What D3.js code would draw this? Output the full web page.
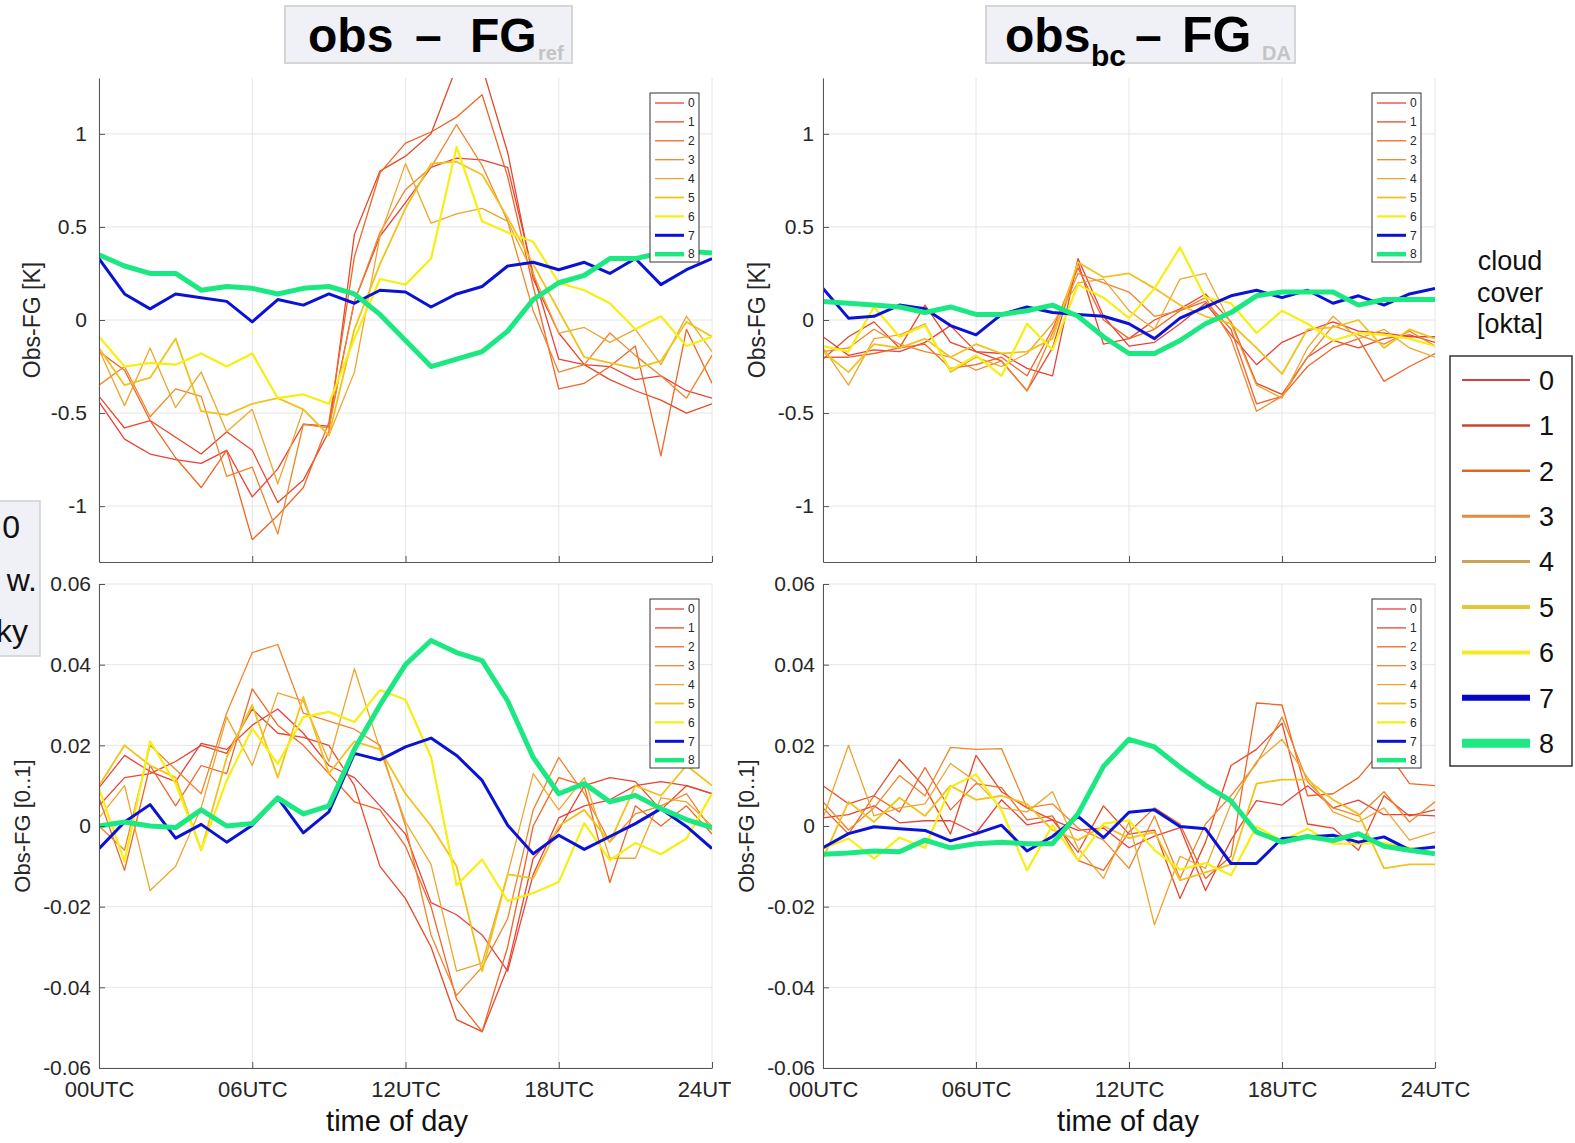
<!DOCTYPE html>
<html>
<head>
<meta charset="utf-8">
<script src="https://d3js.org/d3.v7.min.js"></script>
<style>
  body { margin: 0; background: #fff; }
  svg { display: block; font-family: "Liberation Sans", Arial, sans-serif; }
</style>
</head>
<body>
<div id="chart"></div>
<script>
// hours of the day (x values) and okta classes
const hours = [0,1,2,3,4,5,6,7,8,9,10,11,12,13,14,15,16,17,18,19,20,21,22,23,24];
const oktas = ["0","1","2","3","4","5","6","7","8"];
const xTickHours = [0, 6, 12, 18, 24];
const xTickLabels = ["00UTC", "06UTC", "12UTC", "18UTC", "24UTC"];
const tempTicks = [-1, -0.5, 0, 0.5, 1];
const cloudTicks = [-0.06, -0.04, -0.02, 0, 0.02, 0.04, 0.06];

// obs - FG_ref, temperature [K], one row per okta
const tempRef = [
  [-0.44,-0.64,-0.72,-0.75,-0.77,-0.70,-0.95,-0.80,-0.56,-0.57,0.10,0.45,0.63,0.82,0.87,0.86,0.82,0.25,-0.21,-0.24,-0.25,-0.32,-0.30,-0.38,-0.42],
  [-0.41,-0.58,-0.54,-0.63,-0.72,-0.60,-0.70,-0.98,-0.86,-0.60,0.46,0.80,0.88,1.00,1.36,1.36,0.90,0.22,-0.07,-0.24,-0.32,-0.38,-0.43,-0.50,-0.45],
  [-0.17,-0.27,-0.54,-0.74,-0.90,-0.70,-1.18,-1.05,-0.90,-0.55,0.34,0.79,0.95,1.01,1.09,1.21,0.77,0.18,-0.37,-0.34,-0.25,-0.14,-0.73,-0.05,-0.34],
  [-0.35,-0.25,-0.52,-0.37,-0.41,-0.84,-0.79,-1.15,-0.56,-0.58,0.10,0.47,0.70,0.82,1.05,0.83,0.53,0.05,-0.28,-0.24,-0.07,-0.19,-0.30,-0.42,-0.19],
  [-0.16,-0.46,-0.15,-0.47,-0.28,-0.60,-0.48,-0.88,-0.48,-0.62,-0.28,0.45,0.84,0.52,0.57,0.60,0.53,0.25,-0.07,-0.04,-0.12,-0.05,-0.24,0.02,-0.17],
  [-0.15,-0.35,-0.31,-0.10,-0.49,-0.51,-0.45,-0.42,-0.48,-0.62,-0.05,0.30,0.60,0.84,0.85,0.78,0.55,0.30,0.05,-0.20,-0.23,-0.26,-0.22,-0.01,-0.09],
  [-0.09,-0.25,-0.23,-0.24,-0.18,-0.25,-0.18,-0.42,-0.40,-0.45,-0.10,0.22,0.19,0.33,0.93,0.53,0.47,0.42,0.20,0.16,0.09,-0.05,0.02,-0.14,-0.09],
  [0.33,0.14,0.06,0.14,0.12,0.10,-0.01,0.11,0.08,0.14,0.09,0.16,0.15,0.07,0.14,0.18,0.29,0.31,0.27,0.31,0.25,0.33,0.19,0.27,0.33],
  [0.35,0.29,0.25,0.25,0.16,0.18,0.17,0.14,0.17,0.18,0.14,0.03,-0.11,-0.25,-0.21,-0.17,-0.06,0.11,0.20,0.24,0.33,0.33,0.36,0.37,0.36]
];

// obs_bc - FG_DA, temperature [K]
const tempDA = [
  [-0.09,-0.19,-0.16,-0.17,-0.12,-0.03,-0.17,-0.18,-0.26,-0.30,0.33,0.02,-0.14,-0.12,-0.02,0.09,-0.08,-0.24,-0.12,-0.06,-0.01,-0.06,-0.07,-0.09,-0.09],
  [-0.21,-0.09,-0.01,-0.15,0.08,-0.12,-0.17,-0.22,-0.38,-0.15,0.31,-0.13,-0.10,0.00,0.06,0.14,-0.01,-0.34,-0.40,-0.20,-0.11,-0.15,-0.10,-0.08,-0.12],
  [-0.20,-0.20,-0.18,-0.15,-0.13,-0.26,-0.24,-0.20,-0.30,-0.05,0.28,0.00,-0.10,-0.05,0.05,0.10,-0.05,-0.45,-0.41,-0.25,-0.15,-0.10,-0.33,-0.25,-0.18],
  [-0.17,-0.15,-0.05,-0.13,-0.17,-0.20,-0.27,-0.22,-0.38,-0.07,0.25,0.20,0.15,0.02,0.05,0.12,-0.10,-0.49,-0.41,-0.20,-0.03,-0.08,-0.13,-0.06,-0.14],
  [-0.15,-0.35,-0.10,-0.08,-0.02,-0.28,-0.20,-0.25,-0.18,-0.02,0.20,0.22,0.05,-0.05,0.22,0.25,-0.02,-0.35,-0.42,-0.15,0.02,-0.10,-0.05,-0.15,-0.20],
  [-0.17,-0.28,-0.13,-0.15,-0.10,-0.20,-0.13,-0.18,-0.17,-0.10,0.31,0.23,0.25,0.17,0.08,0.02,-0.02,-0.15,-0.29,-0.05,-0.04,0.00,-0.15,-0.05,-0.10],
  [-0.14,-0.17,0.07,-0.09,-0.03,-0.27,-0.19,-0.30,-0.02,-0.16,0.19,0.12,0.01,0.17,0.39,0.12,0.09,-0.07,0.05,-0.02,-0.11,-0.07,-0.08,-0.10,-0.14],
  [0.17,0.01,0.02,0.08,0.06,-0.03,-0.08,0.03,0.07,0.04,0.03,0.02,-0.02,-0.10,0.01,0.07,0.13,0.16,0.12,0.16,0.09,0.13,0.08,0.14,0.17],
  [0.10,0.09,0.08,0.07,0.04,0.07,0.03,0.03,0.05,0.08,0.02,-0.09,-0.18,-0.18,-0.11,-0.02,0.04,0.13,0.15,0.15,0.15,0.08,0.11,0.11,0.11]
];

// obs - FG_ref, cloud [0..1]
const cloudRef = [
  [0.0095,0.0175,0.0135,0.011,0.0205,0.019,0.025,0.029,0.023,0.015,0.012,0.005,-0.002,-0.019,-0.022,-0.027,-0.036,-0.012,0.002,0.005,0.0065,0.010,0.011,0.010,0.008],
  [0.005,0.012,0.013,0.016,0.020,0.018,0.029,0.023,0.022,0.020,0.010,-0.010,-0.018,-0.030,-0.048,-0.051,-0.035,-0.008,-0.001,0.010,0.012,0.011,0.004,0.010,0.008],
  [0.007,-0.011,0.015,0.005,0.015,0.013,0.034,0.025,0.020,0.013,0.006,0.004,-0.005,-0.020,-0.043,-0.051,-0.030,0.000,0.012,0.010,-0.014,0.005,0.000,0.005,-0.002],
  [0.000,-0.006,0.020,0.014,0.008,0.028,0.043,0.045,0.028,0.026,0.024,0.020,0.000,-0.027,-0.042,-0.035,-0.023,0.004,0.017,0.008,-0.004,0.003,0.005,0.008,-0.001],
  [0.002,0.010,-0.016,-0.010,0.0045,0.027,0.015,0.033,0.031,0.016,0.039,0.019,0.001,-0.0095,-0.036,-0.034,-0.012,0.013,0.004,0.012,-0.008,-0.008,0.007,0.006,0.000],
  [0.010,0.020,0.015,0.012,-0.006,0.017,0.030,0.012,0.032,0.013,0.021,0.019,0.008,0.000,-0.010,-0.036,-0.012,-0.013,0.000,0.004,-0.004,0.010,0.0075,0.015,0.010],
  [0.0093,-0.0088,0.021,0.0105,-0.0059,0.0113,0.0242,0.0154,0.027,0.0283,0.0258,0.0337,0.0313,0.0171,-0.0147,-0.0083,-0.0186,-0.0166,-0.0139,0.0007,-0.0085,-0.0042,-0.007,-0.0031,0.008],
  [-0.0056,0.001,0.0053,-0.003,0.0004,-0.004,0.0002,0.007,-0.0017,0.0035,0.018,0.0164,0.0196,0.0218,0.0175,0.0113,0.0002,-0.0069,-0.0023,-0.0058,-0.0026,0.0006,0.0043,-0.0001,-0.0056],
  [0.000,0.001,0.000,-0.0004,0.004,0.000,0.0006,0.007,0.003,0.005,0.019,0.030,0.040,0.046,0.043,0.041,0.031,0.017,0.008,0.0105,0.006,0.0076,0.0043,0.0016,-0.0004]
];

// obs_bc - FG_DA, cloud [0..1]
const cloudDA = [
  [0.002,0.0028,0.005,0.0008,0.0013,0.0013,-0.0018,0.0065,0.0003,0.0015,-0.0011,-0.0005,-0.0054,-0.0025,-0.0004,-0.016,-0.0035,0.0063,0.0052,0.010,0.0045,0.0064,0.0028,0.0028,0.0025],
  [0.010,0.0055,0.0075,0.0165,0.0095,-0.002,0.0175,0.0085,0.0045,0.0015,-0.0065,0.005,-0.002,-0.001,-0.018,-0.004,0.015,0.019,0.0255,0.0005,-0.0005,-0.006,0.0075,0.0025,0.004],
  [0.0045,-0.002,0.0075,0.0035,0.0145,0.004,0.0105,0.0095,0.0015,0.0025,-0.0085,-0.011,-0.0015,0.0045,0.0005,-0.013,-0.0075,0.0305,0.030,0.0075,0.008,0.012,0.0195,0.0105,0.010],
  [0.006,-0.001,0.0045,0.0125,0.0075,0.0195,0.019,0.0192,0.0045,0.0055,-0.0005,-0.0035,-0.0105,0.0025,-0.013,0.0005,0.0075,0.0155,0.027,0.011,0.0045,0.0025,0.0085,0.001,0.006],
  [0.002,0.020,0.0025,0.0045,0.0055,0.0155,0.011,0.0045,0.0035,0.0085,-0.0055,-0.013,0.001,-0.0245,-0.0075,-0.0105,0.0055,0.016,0.0215,0.012,0.0035,0.001,0.0045,-0.0035,-0.0015],
  [-0.008,0.006,0.001,0.007,0.0025,0.010,0.0065,0.0075,0.0055,-0.001,-0.0035,0.000,-0.003,-0.0015,-0.0135,-0.0115,-0.0095,0.0105,0.0115,0.0115,0.0065,0.003,-0.0105,-0.0095,-0.0095],
  [-0.0056,-0.0031,-0.0081,-0.0029,-0.0054,0.0097,0.0128,0.0039,-0.011,0.0002,-0.0085,0.0006,0.0014,-0.006,-0.0108,-0.0092,-0.0122,-0.0001,-0.0037,-0.0007,-0.0044,-0.0044,-0.0042,-0.0054,-0.0067],
  [-0.0054,-0.0019,-0.0002,-0.0007,-0.0011,-0.0037,-0.0019,0.0002,-0.0062,-0.0026,0.0024,-0.0029,0.0034,0.004,-0.0001,-0.0007,-0.0093,-0.0093,-0.0031,-0.0027,-0.0023,-0.004,-0.0027,-0.0059,-0.0052],
  [-0.007,-0.0067,-0.0062,-0.0064,-0.0035,-0.0054,-0.0044,-0.004,-0.0044,-0.0044,0.003,0.0148,0.0215,0.0196,0.0146,0.0101,0.0062,-0.0015,-0.004,-0.0026,-0.0036,-0.0019,-0.005,-0.006,-0.0069]
];

const lineColors = ["#e8413a","#e6482a","#ef6526","#f0852c","#eea52c","#f2c21c","#f7ee12","#0a12d4","#1ce882"];
const lineWidths = [1.3,1.3,1.3,1.3,1.3,1.8,2.2,3,5];
const bigColors = ["#d6403c","#c9462e","#e0652a","#e08c45","#c8a455","#e2c838","#f0ee1e","#0606c8","#1ee882"];
const bigWidths = [2,2.5,2.5,3,3,4,4,6,9];

var W = 1575, H = 1143;
var svg = d3.select("#chart").append("svg").attr("width", W).attr("height", H);
var defs = svg.append("defs");
defs.append("clipPath").attr("id", "leftHalf").append("rect")
  .attr("x", 0).attr("y", 0).attr("width", 731).attr("height", H);

var leftG = svg.append("g").attr("clip-path", "url(#leftHalf)");
var rightG = svg.append("g");

var fmt = function (v) { return String(v); };

var panels = [
  { g: leftG, id: "p1", data: tempRef, x0: 99, x1: 712, y0: 78, y1: 562, dom: [-1.3, 1.3], ticks: tempTicks,
    pad: 12, ylab: "Obs-FG [K]", ylabX: 32, ylabS: 23, xlabels: false, lx: 650, ly: 93 },
  { g: rightG, id: "p2", data: tempDA, x0: 823, x1: 1435, y0: 78, y1: 562, dom: [-1.3, 1.3], ticks: tempTicks,
    pad: 9, ylab: "Obs-FG [K]", ylabX: 757, ylabS: 23, xlabels: false, lx: 1372, ly: 93 },
  { g: leftG, id: "p3", data: cloudRef, x0: 99, x1: 712, y0: 584, y1: 1068, dom: [-0.06, 0.06], ticks: cloudTicks,
    pad: 8, ylab: "Obs-FG [0..1]", ylabX: 22, ylabS: 22, xlabels: true, tx: 397, lx: 650, ly: 599 },
  { g: rightG, id: "p4", data: cloudDA, x0: 823, x1: 1435, y0: 584, y1: 1068, dom: [-0.06, 0.06], ticks: cloudTicks,
    pad: 8, ylab: "Obs-FG [0..1]", ylabX: 746, ylabS: 22, xlabels: true, tx: 1128, lx: 1372, ly: 599 }
];

panels.forEach(function (p) {
  var x = d3.scaleLinear().domain([0, 24]).range([p.x0, p.x1]);
  var y = d3.scaleLinear().domain(p.dom).range([p.y1, p.y0]);
  var g = p.g.append("g");

  defs.append("clipPath").attr("id", "clip-" + p.id).append("rect")
    .attr("x", p.x0).attr("y", p.y0).attr("width", p.x1 - p.x0).attr("height", p.y1 - p.y0);

  // grid
  g.selectAll(".gy").data(p.ticks).enter().append("line")
    .attr("x1", p.x0).attr("x2", p.x1)
    .attr("y1", function (d) { return y(d); }).attr("y2", function (d) { return y(d); })
    .attr("stroke", "#e6e6e6").attr("stroke-width", 1);
  g.selectAll(".gx").data(xTickHours).enter().append("line")
    .attr("y1", p.y0).attr("y2", p.y1)
    .attr("x1", function (d) { return x(d); }).attr("x2", function (d) { return x(d); })
    .attr("stroke", "#e6e6e6").attr("stroke-width", 1);

  // series
  var line = d3.line()
    .x(function (d, i) { return x(hours[i]); })
    .y(function (d) { return y(d); });
  g.append("g").attr("clip-path", "url(#clip-" + p.id + ")")
    .selectAll("path").data(p.data).enter().append("path")
    .attr("d", line)
    .attr("fill", "none")
    .attr("stroke", function (d, i) { return lineColors[i]; })
    .attr("stroke-width", function (d, i) { return lineWidths[i]; })
    .attr("stroke-linejoin", "round");

  // axes
  var ya = g.append("g").attr("transform", "translate(" + p.x0 + ",0)")
    .call(d3.axisLeft(y).tickValues(p.ticks).tickFormat(fmt).tickSizeInner(-6).tickSizeOuter(0).tickPadding(p.pad));
  ya.select(".domain").attr("stroke", "#555");
  ya.selectAll(".tick line").attr("stroke", "#555");
  ya.selectAll("text").attr("fill", "#262626").style("font-size", "21px");

  var xa = g.append("g").attr("transform", "translate(0," + p.y1 + ")")
    .call(d3.axisBottom(x).tickValues(xTickHours)
      .tickFormat(function (d, i) { return p.xlabels ? xTickLabels[i] : ""; })
      .tickSizeInner(-6).tickSizeOuter(0).tickPadding(13));
  xa.select(".domain").attr("stroke", "#555");
  xa.selectAll(".tick line").attr("stroke", "#555");
  xa.selectAll("text").attr("fill", "#262626").style("font-size", "22px");

  if (p.xlabels) {
    g.append("text").attr("x", p.tx).attr("y", 1131)
      .attr("text-anchor", "middle").style("font-size", "29px").attr("fill", "#111")
      .text("time of day");
  }

  g.append("text")
    .attr("transform", "translate(" + p.ylabX + "," + ((p.y0 + p.y1) / 2) + ") rotate(-90)")
    .attr("text-anchor", "middle").attr("dy", "0.35em")
    .style("font-size", p.ylabS + "px").attr("fill", "#262626")
    .text(p.ylab);

  // small legend
  var lg = g.append("g").attr("transform", "translate(" + p.lx + "," + p.ly + ")");
  lg.append("rect").attr("width", 49).attr("height", 169)
    .attr("fill", "#fff").attr("stroke", "#333").attr("stroke-width", 1);
  var rows = lg.selectAll(".row").data(oktas).enter().append("g")
    .attr("transform", function (d, i) { return "translate(0," + (10 + i * 18.9) + ")"; });
  rows.append("line").attr("x1", 5).attr("x2", 34).attr("y1", 0).attr("y2", 0)
    .attr("stroke", function (d, i) { return lineColors[i]; })
    .attr("stroke-width", function (d, i) { return Math.min(lineWidths[i], 4.5); });
  rows.append("text").attr("x", 38).attr("dy", "0.35em")
    .style("font-size", "12px").attr("fill", "#262626").text(function (d) { return d; });
});

// titles
function titleBox(x, w) {
  svg.append("rect").attr("x", x).attr("y", 6).attr("width", w).attr("height", 57)
    .attr("fill", "#eff1f6").attr("stroke", "#d6d6d6").attr("stroke-width", 2);
}
titleBox(285, 287);
titleBox(986, 309);

var t1 = svg.append("text").attr("y", 52).style("font-weight", "bold").attr("fill", "#000");
t1.append("tspan").attr("x", 308).style("font-size", "48px").text("obs");
t1.append("tspan").attr("x", 415).style("font-size", "48px").text("–");
t1.append("tspan").attr("x", 470).style("font-size", "48px").text("FG");
t1.append("tspan").attr("x", 538).attr("y", 60).style("font-size", "20px").attr("fill", "#c4c4c4").text("ref");

var t2 = svg.append("text").attr("y", 52).style("font-weight", "bold").attr("fill", "#000");
t2.append("tspan").attr("x", 1005).style("font-size", "48px").text("obs");
t2.append("tspan").attr("x", 1091).attr("y", 66).style("font-size", "30px").text("bc");
t2.append("tspan").attr("x", 1135).attr("y", 52).style("font-size", "48px").text("–");
t2.append("tspan").attr("x", 1182).style("font-size", "50px").text("FG");
t2.append("tspan").attr("x", 1262).attr("y", 60).style("font-size", "20px").attr("fill", "#c4c4c4").text("DA");

// partially visible box on the left edge
svg.append("rect").attr("x", -20).attr("y", 501).attr("width", 60).attr("height", 155)
  .attr("fill", "#eff1f6").attr("stroke", "#cfcfcf").attr("stroke-width", 1.5);
[["0", 20, 538], ["w.", 37, 591], ["ky", 28, 642]].forEach(function (r) {
  svg.append("text").attr("x", r[1]).attr("y", r[2]).attr("text-anchor", "end")
    .style("font-size", "32px").attr("fill", "#111").text(r[0]);
});

// cloud cover legend
["cloud", "cover", "[okta]"].forEach(function (s, i) {
  svg.append("text").attr("x", 1510).attr("y", 270 + i * 31.5).attr("text-anchor", "middle")
    .style("font-size", "27px").attr("fill", "#111").text(s);
});
var bl = svg.append("g").attr("transform", "translate(1450,356)");
bl.append("rect").attr("width", 122).attr("height", 410)
  .attr("fill", "#fff").attr("stroke", "#333").attr("stroke-width", 1.5);
var brows = bl.selectAll(".brow").data(oktas).enter().append("g")
  .attr("transform", function (d, i) { return "translate(0," + (24 + i * 45.4) + ")"; });
brows.append("line").attr("x1", 12).attr("x2", 80).attr("y1", 0).attr("y2", 0)
  .attr("stroke", function (d, i) { return bigColors[i]; })
  .attr("stroke-width", function (d, i) { return bigWidths[i]; });
brows.append("text").attr("x", 89).attr("dy", "0.36em")
  .style("font-size", "27px").attr("fill", "#111").text(function (d) { return d; });
</script>
</body>
</html>
